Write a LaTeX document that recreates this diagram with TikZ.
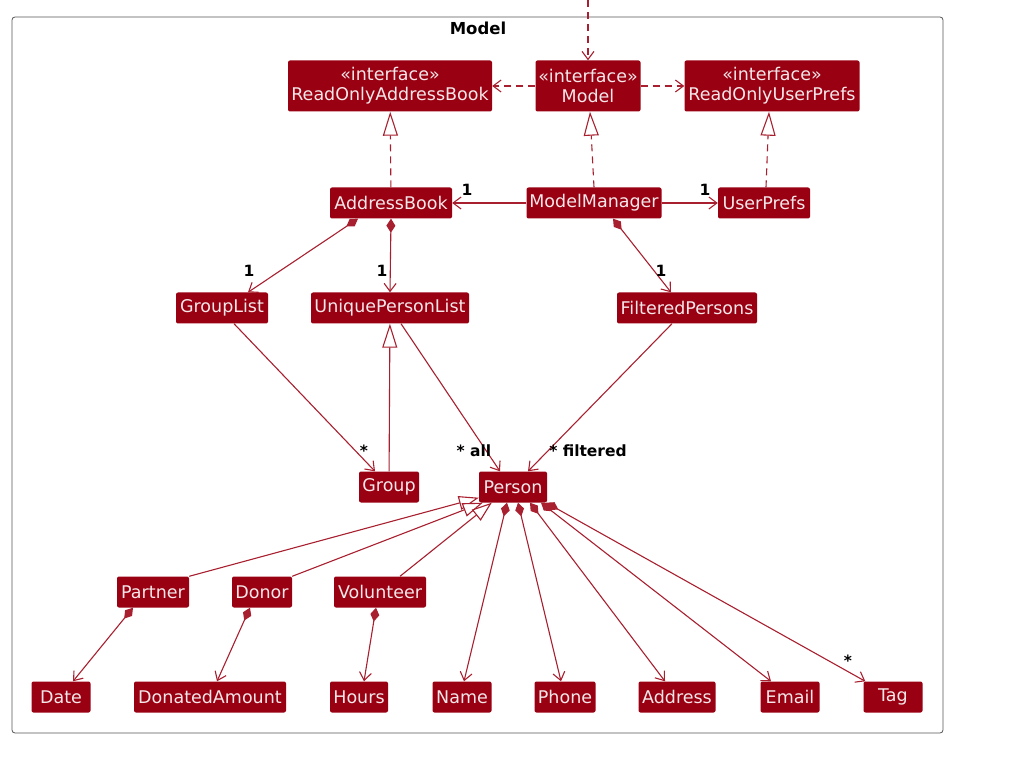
\documentclass[tikz,border=0pt]{standalone}
\usepackage{fontspec}
\setmainfont{DejaVu Sans}
\usetikzlibrary{arrows.meta,calc}
\definecolor{clsfill}{HTML}{990011}
\definecolor{clsline}{HTML}{A8202F}
\definecolor{clstext}{HTML}{F6E8EA}
\definecolor{framecol}{HTML}{555555}
\begin{document}
\begin{tikzpicture}[x=1pt,y=-1pt,
  cls/.style={fill=clsfill, text=clstext, rounded corners=2pt, minimum height=31pt, inner sep=0pt, font=\fontsize{17.5}{20}\selectfont},
  iface/.style={cls, minimum height=51pt, align=center},
  conn/.style={draw=clsline, line width=1.1pt},
  barb/.style={-{Straight Barb[length=8pt,width=12pt]}},
  dep/.style={conn, dash pattern=on 7pt off 5pt, barb},
  assoc/.style={conn, barb},
  comp/.style={conn, {Diamond[length=14pt,width=9pt]}-{Straight Barb[length=8pt,width=12pt]}},
  gen/.style={conn, -{Triangle[open,length=24pt,width=15pt,fill=white]}},
  gensmall/.style={conn, -{Triangle[open,length=20pt,width=14pt,fill=white]}},
  realize/.style={gen, dash pattern=on 7pt off 5pt},
  mult/.style={font=\bfseries\fontsize{15.5}{18}\selectfont, text=black, inner sep=0pt},
]
\useasboundingbox (0,0) rectangle (1013,762);
\draw[framecol, line width=0.8pt, rounded corners=3pt] (12,17) rectangle (943,733);
\node[font=\bfseries\fontsize{16.5}{19}\selectfont] (title) at (478,28) {Model};

% nodes
\node[iface, minimum width=204pt] (rab) at (390,86) {«interface»\\ReadOnlyAddressBook};
\node[iface, minimum width=105pt] (model) at (588,86) {«interface»\\Model};
\node[iface, minimum width=175pt] (rup) at (772,86) {«interface»\\ReadOnlyUserPrefs};
\node[cls, minimum width=122pt] (ab) at (391,203) {AddressBook};
\node[cls, minimum width=135pt] (mm) at (594,203) {ModelManager};
\node[cls, minimum width=92pt] (up) at (764,203) {UserPrefs};
\node[cls, minimum width=92pt] (gl) at (222,308) {GroupList};
\node[cls, minimum width=158pt] (upl) at (390,308) {UniquePersonList};
\node[cls, minimum width=140pt] (fp) at (687,308) {FilteredPersons};
\node[cls, minimum width=60pt] (grp) at (389,487) {Group};
\node[cls, minimum width=68pt] (person) at (513,487) {Person};
\node[cls, minimum width=72pt] (partner) at (153,592) {Partner};
\node[cls, minimum width=60pt] (donor) at (262,592) {Donor};
\node[cls, minimum width=92pt] (vol) at (380,592) {Volunteer};
\node[cls, minimum width=59pt] (date) at (61,697) {Date};
\node[cls, minimum width=152pt] (da) at (210,697) {DonatedAmount};
\node[cls, minimum width=58pt] (hours) at (359,697) {Hours};
\node[cls, minimum width=59pt] (name) at (462,697) {Name};
\node[cls, minimum width=61pt] (phone) at (565,697) {Phone};
\node[cls, minimum width=77pt] (addr) at (677,697) {Address};
\node[cls, minimum width=59pt] (email) at (790,697) {Email};
\node[cls, minimum width=59pt] (tag) at (893,697) {Tag};

% connectors
\coordinate (entry) at (588,0);
\draw[dep] (entry) -- (model);
\draw[dep] (model) -- (rab);
\draw[dep] (model) -- (rup);
\draw[realize] (ab) -- (rab);
\draw[realize] (mm.north) -- ([xshift=2pt]model.south);
\draw[realize] ([xshift=2pt]up.north) -- ([xshift=-3pt]rup.south);
\draw[assoc] (mm) -- (ab);
\draw[assoc] (mm) -- (up);
\draw[comp] ([xshift=-33pt]ab.south) -- ([xshift=26pt]gl.north);
\draw[comp] (ab.south) -- (upl.north);
\draw[comp] ([xshift=19pt]mm.south) -- ([xshift=-16pt]fp.north);
\draw[assoc] ([xshift=12pt]gl.south) -- ([xshift=-14pt]grp.north);
\draw[assoc] ([xshift=11pt]upl.south) -- ([xshift=-13pt]person.north);
\draw[assoc] ([xshift=-15pt]fp.south) -- ([xshift=15pt]person.north);
\draw[gen] (grp) -- (upl);
\draw[gensmall] (partner.north east) -- ([yshift=5pt]person.south west);
\draw[gensmall] (donor.north east) -- ([xshift=4pt]person.south west);
\draw[gensmall] ([xshift=20pt]vol.north) -- ([xshift=13pt]person.south west);
\draw[comp] ([xshift=-6pt]person.south) -- ([xshift=2pt]name.north);
\draw[comp] ([xshift=5pt]person.south) -- ([xshift=-4pt]phone.north);
\draw[comp] ([xshift=17pt]person.south) -- ([xshift=-12pt]addr.north);
\draw[comp] ([xshift=28pt]person.south) -- ([xshift=-19pt]email.north);
\draw[comp] ([xshift=-1pt]person.south east) -- ([xshift=2pt]tag.north west);
\draw[comp] ([xshift=-20pt]partner.south) -- ([xshift=12pt]date.north);
\draw[comp] ([xshift=-12pt]donor.south) -- ([xshift=7pt]da.north);
\draw[comp] ([xshift=-4pt]vol.south) -- ([xshift=5pt]hours.north);

% multiplicities
\node[mult] (m1) at (467,190) {1};
\node[mult] (m2) at (705,190) {1};
\node[mult] (m3) at (249,271) {1};
\node[mult] (m4) at (382,271) {1};
\node[mult] (m5) at (661,271) {1};
\node[mult] (m6) at (364,451) {*};
\node[mult] (m7) at (474,451) {* all};
\node[mult] (m8) at (588,451) {* filtered};
\node[mult] (m9) at (848,661) {*};
\end{tikzpicture}
\end{document}
